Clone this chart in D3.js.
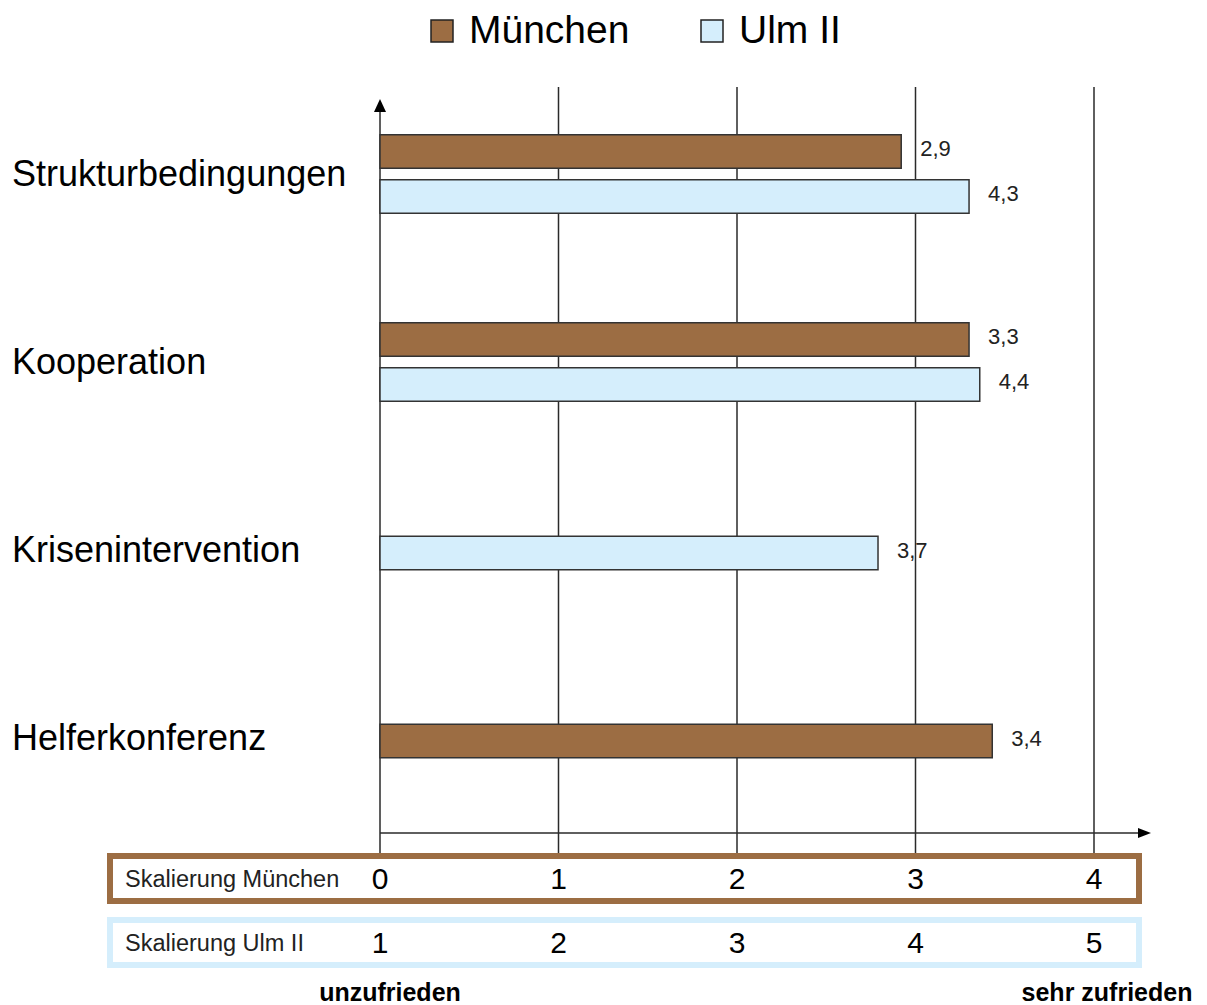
<!DOCTYPE html>
<html>
<head>
<meta charset="utf-8">
<script src="https://cdn.jsdelivr.net/npm/d3@7"></script>
<style>
    body { margin: 0; background: #fff; }
    svg { display: block; font-family: "Liberation Sans", Arial, sans-serif; }
</style>
</head>
<body>
<div id="chart-wrapper"></div>
<script>
(function (d3) {

    var categories = ['Strukturbedingungen', 'Kooperation', 'Krisenintervention', 'Helferkonferenz'];
    var seriesNames = ['München', 'Ulm II'];

    // München: Skala 0-4, Ulm II: Skala 1-5
    var muenchenValues = [2.92, 3.30, null, 3.43];
    var ulmValues = [4.30, 4.36, 3.79, null];
    var muenchenLabels = ['2,9', '3,3', '', '3,4'];
    var ulmLabels = ['4,3', '4,4', '3,7', ''];

    var muenchenTicks = [0, 1, 2, 3, 4];
    var ulmTicks = [1, 2, 3, 4, 5];

    var width = 1207,
        height = 1005;

    var BROWN = '#9c6d43',
        BLUE = '#d5eefc';

    var xScale = d3.scaleLinear().domain([0, 4]).range([380, 1094]);
    var yScale = d3.scaleBand().domain(categories).range([79, 831]).padding(0);

    var svg = d3.select('#chart-wrapper')
        .append('svg')
        .attr('width', width)
        .attr('height', height);

    // gridlines
    svg.append('g')
        .selectAll('line')
        .data(muenchenTicks.slice(1))
        .enter()
        .append('line')
        .attr('x1', function (d) { return xScale(d); })
        .attr('x2', function (d) { return xScale(d); })
        .attr('y1', 87)
        .attr('y2', 854)
        .attr('stroke', '#2a2a2a')
        .attr('stroke-width', 1.5);

    // axes with arrows
    var axes = svg.append('g');
    axes.append('line')
        .attr('x1', xScale(0)).attr('x2', xScale(0))
        .attr('y1', 106).attr('y2', 854)
        .attr('stroke', '#2a2a2a').attr('stroke-width', 1.5);
    axes.append('path')
        .attr('d', 'M' + xScale(0) + ',99 l-6,13 l12,0 z')
        .attr('fill', '#000');
    axes.append('line')
        .attr('x1', xScale(0)).attr('x2', 1140)
        .attr('y1', 833).attr('y2', 833)
        .attr('stroke', '#2a2a2a').attr('stroke-width', 1.5);
    axes.append('path')
        .attr('d', 'M1151,833 l-13,-5 l0,10 z')
        .attr('fill', '#000');

    // bars
    var rows = categories.map(function (c, i) {
        var items = [];
        if (muenchenValues[i] !== null) {
            items.push({ series: 0, value: muenchenValues[i], offset: 0, label: muenchenLabels[i] });
        }
        if (ulmValues[i] !== null) {
            items.push({ series: 1, value: ulmValues[i], offset: 1, label: ulmLabels[i] });
        }
        return { category: c, items: items };
    });

    var barHeight = 33.5,
        barGap = 11.5;

    var bars = svg.append('g');
    var labels = svg.append('g');

    rows.forEach(function (row) {
        var center = yScale(row.category) + yScale.bandwidth() / 2;
        var total = row.items.length * barHeight + (row.items.length - 1) * barGap;
        var top = center - total / 2 + (row.items.length > 1 ? 1 : 4);
        row.items.forEach(function (item, j) {
            var y = top + j * (barHeight + barGap);
            var xEnd = xScale(item.value - item.offset);
            bars.append('rect')
                .attr('x', xScale(0))
                .attr('y', y)
                .attr('width', xEnd - xScale(0))
                .attr('height', barHeight)
                .attr('fill', item.series === 0 ? BROWN : BLUE)
                .attr('stroke', '#333')
                .attr('stroke-width', 1.5);
            labels.append('text')
                .attr('x', xEnd + 19)
                .attr('y', y + barHeight / 2 - 3)
                .attr('dy', '0.35em')
                .attr('font-size', 22)
                .attr('fill', '#222')
                .text(item.label);
        });
    });

    // category labels
    svg.append('g')
        .selectAll('text')
        .data(categories)
        .enter()
        .append('text')
        .attr('x', 12)
        .attr('y', function (d) { return yScale(d) + yScale.bandwidth() / 2; })
        .attr('dy', '0.35em')
        .attr('font-size', 36)
        .attr('fill', '#000')
        .text(function (d) { return d; });

    // scale boxes
    var boxes = [
        { name: 'Skalierung München', ticks: muenchenTicks, color: BROWN, y: 856 },
        { name: 'Skalierung Ulm II', ticks: ulmTicks, color: BLUE, y: 920 }
    ];

    boxes.forEach(function (box) {
        var g = svg.append('g');
        g.append('rect')
            .attr('x', 110)
            .attr('y', box.y)
            .attr('width', 1029)
            .attr('height', 45)
            .attr('fill', 'none')
            .attr('stroke', box.color)
            .attr('stroke-width', 6);
        g.append('text')
            .attr('x', 125)
            .attr('y', box.y + 22.5)
            .attr('dy', '0.35em')
            .attr('font-size', 23.5)
            .attr('fill', '#222')
            .text(box.name);
        g.selectAll('text.tick')
            .data(box.ticks)
            .enter()
            .append('text')
            .attr('class', 'tick')
            .attr('x', function (d, i) { return xScale(muenchenTicks[i]); })
            .attr('y', box.y + 22)
            .attr('dy', '0.35em')
            .attr('text-anchor', 'middle')
            .attr('font-size', 30)
            .attr('fill', '#000')
            .text(function (d) { return d; });
    });

    // end labels
    svg.append('text')
        .attr('x', 390).attr('y', 1001)
        .attr('text-anchor', 'middle')
        .attr('font-size', 25).attr('font-weight', 'bold')
        .text('unzufrieden');
    svg.append('text')
        .attr('x', 1107).attr('y', 1001)
        .attr('text-anchor', 'middle')
        .attr('font-size', 25).attr('font-weight', 'bold')
        .text('sehr zufrieden');

    // legend
    var legendX = [431, 701];
    var legend = svg.append('g');
    seriesNames.forEach(function (name, i) {
        legend.append('rect')
            .attr('x', legendX[i])
            .attr('y', 20)
            .attr('width', 22)
            .attr('height', 22)
            .attr('fill', i === 0 ? BROWN : BLUE)
            .attr('stroke', '#222')
            .attr('stroke-width', 1.5);
        legend.append('text')
            .attr('x', legendX[i] + 38)
            .attr('y', 43)
            .attr('font-size', 39)
            .attr('fill', '#000')
            .text(name);
    });

})(d3);
</script>
</body>
</html>
